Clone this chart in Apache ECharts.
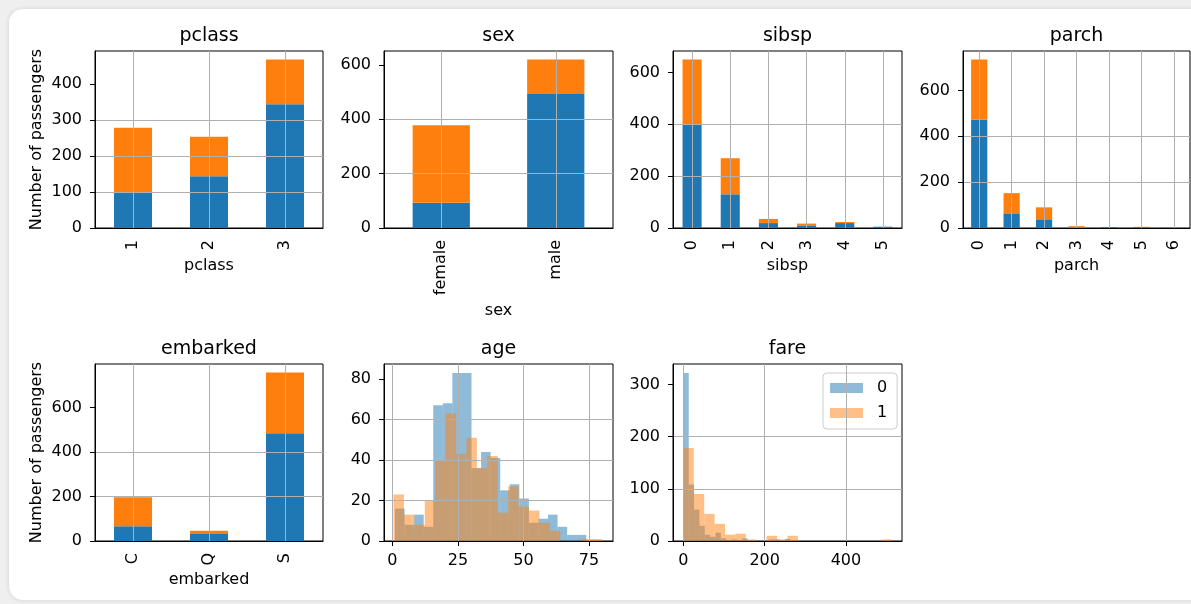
<!DOCTYPE html>
<html>
<head>
<meta charset="utf-8">
<script src="https://cdn.jsdelivr.net/npm/echarts@6/dist/echarts.min.js"></script>
<style>
  html, body { margin: 0; padding: 0; width: 1191px; height: 604px; overflow: hidden; background: #efefef; }
  .card { position: absolute; left: 9px; top: 9px; width: 1220px; height: 591px; background: #fff; border-radius: 14px; box-shadow: 0 0 5px rgba(0,0,0,0.12); }
  #chart { position: absolute; left: 0; top: 0; width: 1191px; height: 604px; }
</style>
</head>
<body>
<div class="card"></div>
<div id="chart"></div>
<script>
// counts per category: 0 = died (blue), 1 = survived (orange)
const pclassCats = ['1', '2', '3'];
const pclassDied = [100, 144, 344];
const pclassSurvived = [179, 110, 125];

const sexCats = ['female', 'male'];
const sexDied = [93, 493];
const sexSurvived = [285, 127];

const sibspCats = ['0', '1', '2', '3', '4', '5'];
const sibspDied = [398, 130, 19, 10, 19, 5];
const sibspSurvived = [252, 139, 16, 7, 4, 0];

const parchCats = ['0', '1', '2', '3', '4', '5', '6'];
const parchDied = [472, 64, 38, 2, 4, 4, 1];
const parchSurvived = [263, 88, 52, 6, 0, 1, 0];

const embarkedCats = ['C', 'Q', 'S'];
const embarkedDied = [66, 32, 485];
const embarkedSurvived = [131, 14, 274];

// histograms: 20 equal bins between range[0] and range[1]
const ageDiedRange = [1, 74];
const ageDied = [16, 8, 13, 7, 67, 68, 83, 83, 36, 44, 41, 25, 28, 21, 9, 11, 13, 7, 3, 3];
const ageSurvivedRange = [0.42, 80];
const ageSurvived = [23, 13, 8, 20, 40, 63, 43, 51, 36, 42, 14, 27, 17, 15, 9, 5, 0, 0, 1, 1];

const fareDiedRange = [0, 263];
const fareDied = [322, 108, 60, 29, 12, 8, 16, 5, 2, 3, 2, 5, 1, 0, 0, 0, 3, 3, 0, 4];
const fareSurvivedRange = [0, 512.33];
const fareSurvived = [178, 90, 52, 33, 12, 14, 3, 0, 10, 3, 10, 0, 0, 0, 0, 0, 0, 0, 0, 3];

// tick labels
const ageTicksX = [0, 25, 50, 75];
const fareTicksX = [0, 200, 400];

const FONT = 'DejaVu Sans';
const BLUE = '#1f77b4';
const ORANGE = '#ff7f0e';

const barPanels = [
    { key: 'pclass', cats: pclassCats, died: pclassDied, surv: pclassSurvived, yTicks: [0, 100, 200, 300, 400], left: 95, top: 51, width: 228, nameGap: 30, ylabel: true },
    { key: 'sex', cats: sexCats, died: sexDied, surv: sexSurvived, yTicks: [0, 200, 400, 600], left: 384, top: 51, width: 229, nameGap: 75 },
    { key: 'sibsp', cats: sibspCats, died: sibspDied, surv: sibspSurvived, yTicks: [0, 200, 400, 600], left: 673, top: 51, width: 229, nameGap: 30 },
    { key: 'parch', cats: parchCats, died: parchDied, surv: parchSurvived, yTicks: [0, 200, 400, 600], left: 963, top: 51, width: 227, nameGap: 30 },
    { key: 'embarked', cats: embarkedCats, died: embarkedDied, surv: embarkedSurvived, yTicks: [0, 200, 400, 600], left: 95, top: 364, width: 228, nameGap: 31, ylabel: true }
];

const histPanels = [
    { key: 'age', died: ageDied, diedRange: ageDiedRange, surv: ageSurvived, survRange: ageSurvivedRange,
      xMin: -3.2, xMax: 84.2, xTicks: ageTicksX, yMax: 87.4, yTicks: [0, 20, 40, 60, 80], left: 384, top: 364, width: 229 },
    { key: 'fare', died: fareDied, diedRange: fareDiedRange, surv: fareSurvived, survRange: fareSurvivedRange,
      xMin: -25.6, xMax: 538, xTicks: fareTicksX, yMax: 339, yTicks: [0, 100, 200, 300], left: 673, top: 364, width: 229, legend: true }
];

const PLOT_H = 177;
const tickText = { color: '#000', fontSize: 16, fontFamily: FONT };
const gridStroke = { color: '#b0b0b0', width: 1 };
// y grid: skip the lines lying on the frame
const yGridLine = { show: true, showMaxLine: false, showMinLine: false, lineStyle: gridStroke };
// x grid: every custom tick gets its line
const xGridLine = { show: true, showMaxLine: true, showMinLine: true, lineStyle: gridStroke };

const grids = [], xAxes = [], yAxes = [], series = [], texts = [];

function valueAxis(i, max, ticks) {
    return {
        type: 'value', gridIndex: i, min: 0, max: max, z: 5,
        interval: ticks[1] - ticks[0],
        axisLine: { show: true, onZero: false, lineStyle: { color: '#000', width: 1 } },
        axisTick: { show: true, length: 5, customValues: ticks, lineStyle: { color: '#000' } },
        axisLabel: Object.assign({ margin: 13, customValues: ticks }, tickText),
        splitLine: yGridLine
    };
}

function addTitle(text, p) {
    texts.push({
        type: 'text', x: p.left + p.width / 2, y: p.top - 15,
        style: { text: text, font: '19px "' + FONT + '"', fill: '#000', align: 'center', verticalAlign: 'middle' }
    });
}

const barAxisIdx = [];
barPanels.forEach((p, i) => {
    grids.push({ left: p.left, top: p.top, width: p.width, height: PLOT_H, show: true, borderColor: '#000', borderWidth: 1 });
    barAxisIdx.push(xAxes.length);
    xAxes.push({
        type: 'category', gridIndex: i, data: p.cats, z: 5,
        axisLine: { onZero: false, lineStyle: { color: '#000', width: 1 } },
        axisTick: { alignWithLabel: true, length: 5, lineStyle: { color: '#000' } },
        axisLabel: Object.assign({ rotate: 90, margin: 12, interval: 0 }, tickText),
        splitLine: { show: false },
        name: p.key, nameLocation: 'middle', nameGap: p.nameGap, nameTextStyle: tickText
    });
    // hidden value axis that only carries the vertical grid lines at category centres
    const centres = p.cats.map((c, k) => k);
    xAxes.push({
        type: 'value', gridIndex: i, min: -0.5, max: p.cats.length - 0.5, z: 5, position: 'bottom',
        axisLine: { show: false, onZero: false }, axisLabel: { show: false },
        axisTick: { show: false, customValues: centres },
        splitLine: xGridLine
    });
    const total = p.died.map((d, k) => d + p.surv[k]);
    const y = valueAxis(i, Math.max(...total) * 1.05, p.yTicks);
    if (p.ylabel) {
        Object.assign(y, { name: 'Number of passengers', nameLocation: 'middle', nameRotate: 90, nameGap: 50, nameTextStyle: tickText });
    }
    yAxes.push(y);
    series.push(
        { type: 'bar', name: p.key + '-0', xAxisIndex: barAxisIdx[i], yAxisIndex: i, stack: p.key, barWidth: '50%', z: 1, data: p.died, itemStyle: { color: BLUE } },
        { type: 'bar', name: p.key + '-1', xAxisIndex: barAxisIdx[i], yAxisIndex: i, stack: p.key, barWidth: '50%', z: 1, data: p.surv, itemStyle: { color: ORANGE } }
    );
    addTitle(p.key, p);
});

function binData(counts, range) {
    const w = (range[1] - range[0]) / counts.length;
    return counts.map((c, k) => [range[0] + k * w, range[0] + (k + 1) * w, c]);
}

function renderBin(params, api) {
    const top = api.coord([api.value(0), api.value(2)]);
    const bottom = api.coord([api.value(1), 0]);
    return {
        type: 'rect',
        shape: { x: top[0], y: top[1], width: bottom[0] - top[0], height: bottom[1] - top[1] },
        style: { fill: api.visual('color') }
    };
}

histPanels.forEach((p, j) => {
    const i = barPanels.length + j;
    grids.push({ left: p.left, top: p.top, width: p.width, height: PLOT_H, show: true, borderColor: '#000', borderWidth: 1 });
    const xi = xAxes.length;
    xAxes.push({
        type: 'value', gridIndex: i, min: p.xMin, max: p.xMax, z: 5,
        axisLine: { onZero: false, lineStyle: { color: '#000', width: 1 } },
        axisTick: { show: true, length: 5, customValues: p.xTicks, lineStyle: { color: '#000' } },
        axisLabel: Object.assign({ margin: 12, customValues: p.xTicks }, tickText),
        splitLine: xGridLine
    });
    yAxes.push(valueAxis(i, p.yMax, p.yTicks));
    const prefix = p.legend ? '' : p.key + '-';
    series.push(
        { type: 'custom', name: prefix + '0', xAxisIndex: xi, yAxisIndex: i, clip: true, z: 1, renderItem: renderBin,
          encode: { x: [0, 1], y: 2 }, data: binData(p.died, p.diedRange), itemStyle: { color: 'rgba(31,119,180,0.5)' } },
        { type: 'custom', name: prefix + '1', xAxisIndex: xi, yAxisIndex: i, clip: true, z: 1, renderItem: renderBin,
          encode: { x: [0, 1], y: 2 }, data: binData(p.surv, p.survRange), itemStyle: { color: 'rgba(255,127,14,0.5)' } }
    );
    addTitle(p.key, p);
});

const chart = echarts.init(document.getElementById('chart'), null, { renderer: 'canvas' });
chart.setOption({
    animation: false,
    textStyle: { fontFamily: FONT },
    grid: grids,
    xAxis: xAxes,
    yAxis: yAxes,
    series: series,
    graphic: texts,
    legend: {
        data: ['0', '1'], icon: 'rect', orient: 'vertical',
        left: 823, top: 373, itemWidth: 33, itemHeight: 10, itemGap: 9,
        padding: [7, 10, 8, 7], borderColor: '#cccccc', borderWidth: 1, borderRadius: 4,
        backgroundColor: 'rgba(255,255,255,0.8)',
        textStyle: Object.assign({ padding: [0, 0, 0, 9] }, tickText)
    }
});
</script>
</body>
</html>
